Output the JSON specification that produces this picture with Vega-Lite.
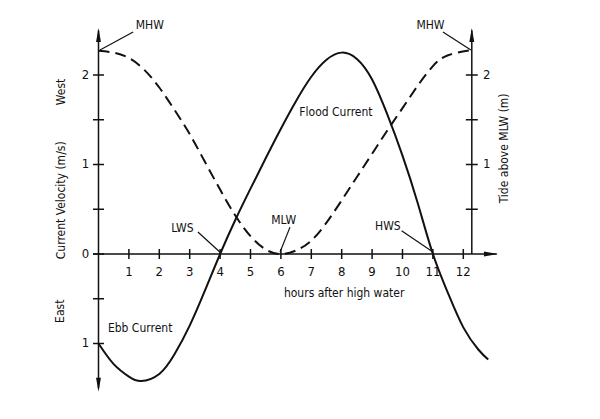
{
  "$schema": "https://vega.github.io/schema/vega-lite/v6.json",
  "width": 600,
  "height": 419,
  "padding": 0,
  "autosize": {"type": "none"},
  "background": "white",
  "config": {"view": {"stroke": null}, "text": {"font": "DejaVu Sans Condensed", "color": "#111"}},
  "datasets": {
    "current": [
      {"x": 0, "y": -1.0}, {"x": 0.5, "y": -1.23}, {"x": 1, "y": -1.37}, {"x": 1.4, "y": -1.42},
      {"x": 2, "y": -1.34}, {"x": 2.5, "y": -1.12}, {"x": 3, "y": -0.8}, {"x": 3.5, "y": -0.41},
      {"x": 4, "y": 0}, {"x": 4.5, "y": 0.38}, {"x": 5, "y": 0.73}, {"x": 5.5, "y": 1.07},
      {"x": 6, "y": 1.4}, {"x": 6.5, "y": 1.71}, {"x": 7, "y": 1.98}, {"x": 7.5, "y": 2.17},
      {"x": 8, "y": 2.25}, {"x": 8.5, "y": 2.18}, {"x": 9, "y": 1.95}, {"x": 9.5, "y": 1.56},
      {"x": 10, "y": 1.1}, {"x": 10.5, "y": 0.57}, {"x": 11, "y": 0}, {"x": 11.5, "y": -0.44},
      {"x": 12, "y": -0.82}, {"x": 12.5, "y": -1.07}, {"x": 12.82, "y": -1.18}
    ],
    "tide": [
      {"x": 0, "y": 2.27}, {"x": 0.5, "y": 2.25}, {"x": 1, "y": 2.19}, {"x": 1.5, "y": 2.06},
      {"x": 2, "y": 1.86}, {"x": 2.5, "y": 1.61}, {"x": 3, "y": 1.34}, {"x": 3.5, "y": 1.03},
      {"x": 4, "y": 0.72}, {"x": 4.5, "y": 0.43}, {"x": 5, "y": 0.2}, {"x": 5.5, "y": 0.05},
      {"x": 6, "y": 0}, {"x": 6.5, "y": 0.04}, {"x": 7, "y": 0.15}, {"x": 7.5, "y": 0.35},
      {"x": 8, "y": 0.6}, {"x": 8.5, "y": 0.86}, {"x": 9, "y": 1.12}, {"x": 9.5, "y": 1.38},
      {"x": 10, "y": 1.63}, {"x": 10.5, "y": 1.88}, {"x": 11, "y": 2.1}, {"x": 11.5, "y": 2.22},
      {"x": 12.28, "y": 2.28}
    ],
    "axes": [
      {"x": -0.18, "y": 0, "x2": 13.1, "y2": 0},
      {"x": 0, "y": -1.5, "x2": 0, "y2": 2.5},
      {"x": 12.28, "y": 0, "x2": 12.28, "y2": 2.5}
    ],
    "leaders": [
      {"x": 0.05, "y": 2.28, "x2": 1.14, "y2": 2.48},
      {"x": 11.33, "y": 2.48, "x2": 12.25, "y2": 2.28},
      {"x": 3.27, "y": 0.246, "x2": 4.0, "y2": 0.02},
      {"x": 6.3, "y": 0.3, "x2": 5.97, "y2": 0.02},
      {"x": 9.97, "y": 0.26, "x2": 10.99, "y2": 0.025}
    ],
    "arrowUp": [{"x": 0, "y": 2.525}, {"x": 12.28, "y": 2.525}],
    "arrowDown": [{"x": 0, "y": -1.54}],
    "arrowRight": [{"x": 13.14, "y": 0}],
    "xticks": [
      {"x": 1, "y": 0, "label": "1"}, {"x": 2, "y": 0, "label": "2"}, {"x": 3, "y": 0, "label": "3"},
      {"x": 4, "y": 0, "label": "4"}, {"x": 5, "y": 0, "label": "5"}, {"x": 6, "y": 0, "label": "6"},
      {"x": 7, "y": 0, "label": "7"}, {"x": 8, "y": 0, "label": "8"}, {"x": 9, "y": 0, "label": "9"},
      {"x": 10, "y": 0, "label": "10"}, {"x": 11, "y": 0, "label": "11"}, {"x": 12, "y": 0, "label": "12"}
    ],
    "yticksL": [
      {"x": 0, "y": -1, "label": "1"}, {"x": 0, "y": -0.5, "label": ""}, {"x": 0, "y": 0, "label": "0"},
      {"x": 0, "y": 0.5, "label": ""}, {"x": 0, "y": 1, "label": "1"}, {"x": 0, "y": 1.5, "label": ""},
      {"x": 0, "y": 2, "label": "2"}
    ],
    "yticksR": [
      {"x": 12.28, "y": 0.5, "label": ""}, {"x": 12.28, "y": 1, "label": "1"},
      {"x": 12.28, "y": 1.5, "label": ""}, {"x": 12.28, "y": 2, "label": "2"}
    ],
    "annot": [
      {"x": 1.69, "y": 2.56, "label": "MHW"},
      {"x": 10.92, "y": 2.56, "label": "MHW"},
      {"x": 2.76, "y": 0.296, "label": "LWS"},
      {"x": 6.09, "y": 0.38, "label": "MLW"},
      {"x": 9.52, "y": 0.31, "label": "HWS"},
      {"x": 7.81, "y": 1.59, "label": "Flood Current"},
      {"x": 1.37, "y": -0.83, "label": "Ebb Current"},
      {"x": 8.08, "y": -0.44, "label": "hours after high water"}
    ],
    "vtitles": [
      {"x": -1.23, "y": 0.6, "label": "Current Velocity (m/s)"},
      {"x": -1.23, "y": 1.81, "label": "West"},
      {"x": -1.27, "y": -0.64, "label": "East"},
      {"x": 13.34, "y": 1.18, "label": "Tide above MLW (m)"}
    ]
  },
  "encoding": {
    "x": {"field": "x", "type": "quantitative", "scale": {"domain": [-3.24, 16.497], "nice": false, "zero": false}, "axis": null},
    "y": {"field": "y", "type": "quantitative", "scale": {"domain": [-1.8436, 2.838], "nice": false, "zero": false}, "axis": null}
  },
  "layer": [
    {"data": {"name": "axes"}, "mark": {"type": "rule", "color": "#111", "strokeWidth": 1.5},
     "encoding": {"x2": {"field": "x2"}, "y2": {"field": "y2"}}},
    {"data": {"name": "leaders"}, "mark": {"type": "rule", "color": "#111", "strokeWidth": 1.2},
     "encoding": {"x2": {"field": "x2"}, "y2": {"field": "y2"}}},
    {"data": {"name": "tide"}, "mark": {"type": "line", "color": "#111", "strokeWidth": 2, "strokeDash": [11, 6], "interpolate": "natural"}},
    {"data": {"name": "current"}, "mark": {"type": "line", "color": "#111", "strokeWidth": 2, "interpolate": "natural"}},
    {"data": {"name": "arrowUp"}, "mark": {"type": "point", "shape": "M0,0L0.35,2L-0.35,2Z", "size": 196, "filled": true, "color": "#111", "opacity": 1}},
    {"data": {"name": "arrowDown"}, "mark": {"type": "point", "shape": "M0,0L0.35,-2L-0.35,-2Z", "size": 196, "filled": true, "color": "#111", "opacity": 1}},
    {"data": {"name": "arrowRight"}, "mark": {"type": "point", "shape": "M0,0L-2,0.35L-2,-0.35Z", "size": 196, "filled": true, "color": "#111", "opacity": 1}},
    {"data": {"name": "xticks"}, "mark": {"type": "point", "shape": "M0,-1L0,1", "size": 100, "filled": false, "color": "#111", "strokeWidth": 1.5, "opacity": 1}},
    {"data": {"name": "xticks"}, "mark": {"type": "text", "fontSize": 13, "dy": 18, "baseline": "middle", "align": "center"},
     "encoding": {"text": {"field": "label"}}},
    {"data": {"name": "yticksL"}, "mark": {"type": "point", "shape": "M-1,0L1,0", "size": 121, "filled": false, "color": "#111", "strokeWidth": 1.5, "opacity": 1}},
    {"data": {"name": "yticksL"}, "mark": {"type": "text", "fontSize": 13, "dx": -13, "baseline": "middle", "align": "center"},
     "encoding": {"text": {"field": "label"}}},
    {"data": {"name": "yticksR"}, "mark": {"type": "point", "shape": "M-1,0L1,0", "size": 144, "filled": false, "color": "#111", "strokeWidth": 1.5, "opacity": 1}},
    {"data": {"name": "yticksR"}, "mark": {"type": "text", "fontSize": 13, "dx": 15, "baseline": "middle", "align": "center"},
     "encoding": {"text": {"field": "label"}}},
    {"data": {"name": "annot"}, "mark": {"type": "text", "fontSize": 12, "baseline": "middle", "align": "center"},
     "encoding": {"text": {"field": "label"}}},
    {"data": {"name": "vtitles"}, "mark": {"type": "text", "fontSize": 12, "angle": 270, "baseline": "middle", "align": "center"},
     "encoding": {"text": {"field": "label"}}}
  ]
}
